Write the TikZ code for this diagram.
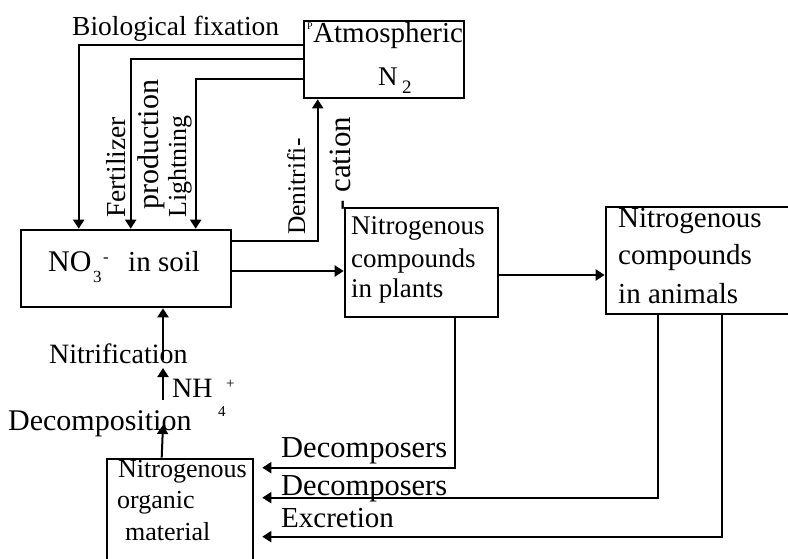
\documentclass[tikz,border=0pt]{standalone}
\usepackage{fontspec}
\setmainfont{Liberation Serif}
\usetikzlibrary{arrows.meta,calc}
\begin{document}
\begin{tikzpicture}[x=1pt,y=-1pt,
  box/.style={draw, line width=2.6pt, inner sep=0pt},
  link/.style={line width=2pt},
  arr/.style={link, -{Triangle[width=11pt,length=9pt]}},
  lbl/.style={inner sep=0pt, anchor=base west},
  fs/.style={font=\fontsize{#1}{#1}\selectfont}]
\useasboundingbox (0,0) rectangle (788,559);
\clip (0,0) rectangle (788,559);

% boxes
\node[box, minimum width=160pt, minimum height=77pt]  (atm)     at (384,59.5)  {};
\node[box, minimum width=210pt, minimum height=77pt]  (no3)     at (126,268.5) {};
\node[box, minimum width=153pt, minimum height=109pt] (plants)  at (421.5,262.5) {};
\node[box, minimum width=200pt, minimum height=107pt] (animals) at (706,260.5) {};
\node[box, minimum width=146pt, minimum height=120pt] (organic) at (180,519) {};

% atmospheric nitrogen
\node[lbl,fs=10]   (pmark)   at (307,30) {P};
\node[lbl,fs=29]   (atmtext) at (313,43) {Atmospheric};
\node[lbl,fs=27]   (ntext)   at (378,86) {N};
\node[lbl,fs=19]   (twotext) at (402,94) {2};

% nitrate in soil
\node[lbl,fs=30]   (notext)  at (48,272)  {NO};
\node[lbl,fs=17]   (three)   at (93,283)  {3};
\node[lbl,fs=17]   (minus)   at (103,262) {-};
\node[lbl,fs=29]   (insoil)  at (128,272) {in soil};

% plants and animals
\node[lbl,fs=27]   (pl1) at (351,235) {Nitrogenous};
\node[lbl,fs=27]   (pl2) at (351,267) {compounds};
\node[lbl,fs=27]   (pl3) at (351,298) {in plants};
\node[lbl,fs=29]   (an1) at (618,228) {Nitrogenous};
\node[lbl,fs=29]   (an2) at (618,265) {compounds};
\node[lbl,fs=29]   (an3) at (618,303) {in animals};

% organic material
\node[lbl,fs=26]   (or1) at (118,477) {Nitrogenous};
\node[lbl,fs=26]   (or2) at (117,508) {organic};
\node[lbl,fs=26]   (or3) at (125,540) {material};

% process labels
\node[lbl,fs=27.5] (biofix) at (72,36) {Biological fixation};
\node[lbl,fs=27.5,rotate=90] (fert)   at (125,218) {Fertilizer};
\node[lbl,fs=30,rotate=90]   (prod)   at (158,210) {production};
\node[lbl,fs=26,rotate=90]   (light)  at (186,218) {Lightning};
\node[lbl,fs=25.5,rotate=90] (denit)  at (305,235) {Denitrifi-};
\node[lbl,fs=31,rotate=90]   (cation) at (350,211) {- cation};
\node[lbl,fs=28]   (nitrif) at (49,363)  {Nitrification};
\node[lbl,fs=28]   (nh)     at (172,397) {NH};
\node[lbl,fs=15]   (four)   at (218,416) {4};
\node[lbl,fs=15]   (plus)   at (226,388) {+};
\node[lbl,fs=30]   (decomp) at (8,430)   {Decomposition};
\node[lbl,fs=30.5] (dec1)   at (281,457) {Decomposers};
\node[lbl,fs=30.5] (dec2)   at (281,495) {Decomposers};
\node[lbl,fs=29]   (excr)   at (281,527) {Excretion};

% fixation routes from the atmosphere
\draw[arr] ($(atm.north west)+(0,25)$) -| ($(no3.north west)+(59,0)$);
\draw[arr] ($(atm.north west)+(0,39)$) -| ($(no3.north west)+(111,0)$);
\draw[arr] ($(atm.north west)+(0,59)$) -| ($(no3.north west)+(176,0)$);

% denitrification
\draw[arr] ($(no3.north east)+(0,12)$) -| ($(atm.south west)+(15,0)$);

% uptake along the food chain
\draw[arr] ($(no3.east)+(0,2.5)$) coordinate (upt) -- (plants.west |- upt);
\draw[arr] ($(plants.east)+(0,12.5)$) coordinate (eat) -- (animals.west |- eat);

% nitrification and decomposition
\coordinate (nitend) at (163,360);
\draw[arr] (nitend) -- (nitend |- no3.south);
\coordinate (nhbot) at (163,400);
\coordinate (nhtop) at (163,368);
\draw[arr] (nhbot) -- (nhtop);
\coordinate (dectip) at (163,425);
\draw[arr] ($(organic.north west)+(56,0)$) -- (dectip);

% return to organic material
\draw[arr, shorten >=8pt] ($(plants.south west)+(111,0)$)  |- ($(organic.north east)+(0,10)$);
\draw[arr, shorten >=8pt] ($(animals.south west)+(53,0)$)  |- ($(organic.north east)+(0,40)$);
\draw[arr, shorten >=8pt] ($(animals.south west)+(117,0)$) |- ($(organic.north east)+(0,79)$);
\end{tikzpicture}
\end{document}
